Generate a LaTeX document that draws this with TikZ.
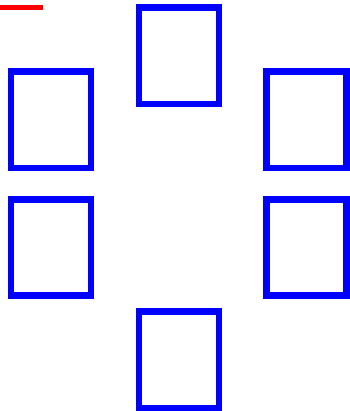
\documentclass[tikz,border=0pt]{standalone}
\begin{document}
\begin{tikzpicture}[x=1pt,y=-1pt,
  cell/.style={draw=blue,line width=6.4pt,rectangle,inner sep=0pt,minimum width=80pt,minimum height=96.3pt}]
\useasboundingbox (0,0) rectangle (349,411);
\coordinate (r1) at (-5,7.5);
\coordinate (r2) at (43,7.5);
\draw[red,line width=5pt] (r1) -- (r2);
\node[cell] (top) at (179,55.6) {};
\node[cell] (lu) at (51,119.6) {};
\node[cell] (ru) at (306.3,119.7) {};
\node[cell] (ll) at (51,247.5) {};
\node[cell] (rl) at (306.3,247.5) {};
\node[cell] (bot) at (179,359.6) {};
\end{tikzpicture}
\end{document}
